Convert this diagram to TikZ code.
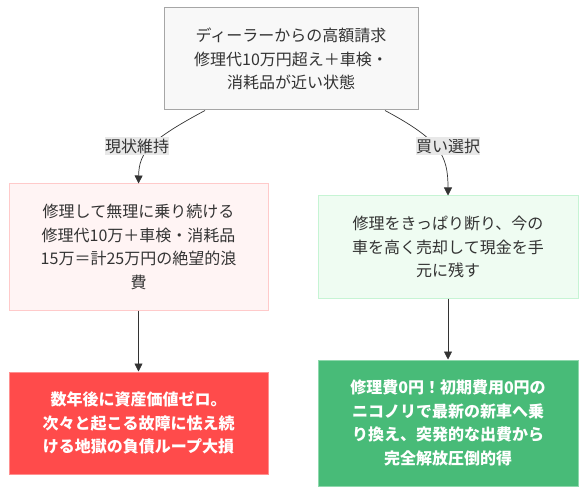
\documentclass[tikz,border=0pt]{standalone}
\usepackage{fontspec}
\setmainfont{Noto Sans CJK JP}
\usetikzlibrary{arrows.meta}

\definecolor{inktext}{HTML}{333333}
\definecolor{topfill}{HTML}{F8F8F8}
\definecolor{topline}{HTML}{A6A6A6}
\definecolor{keepfill}{HTML}{FFF4F4}
\definecolor{keepline}{HTML}{FFCACA}
\definecolor{sellfill}{HTML}{EFFCF2}
\definecolor{sellline}{HTML}{C6F4D4}
\definecolor{lossfill}{HTML}{FF4B4B}
\definecolor{lossline}{HTML}{FF9090}
\definecolor{gainfill}{HTML}{48BB78}
\definecolor{gainline}{HTML}{8ED8AC}
\definecolor{lblfill}{HTML}{E8E8E8}

\tikzset{
  box/.style={draw, align=center, inner sep=0pt, line width=1pt,
    text=inktext, font=\fontsize{16}{23.6}\selectfont},
  hotbox/.style={box, text=white, font=\fontsize{16}{23.6}\selectfont\bfseries},
  lbl/.style={fill=lblfill, text=inktext, inner xsep=0.3pt, inner ysep=2pt,
    font=\fontsize{16}{18}\selectfont},
  edge/.style={draw=inktext, line width=0.7pt, -{Triangle[length=8pt,width=8pt]}},
}

\begin{document}
\begin{tikzpicture}[x=1pt, y=-1pt]
\useasboundingbox (0,0) rectangle (586,494);

\node[box, fill=topfill, draw=topline, minimum width=254, minimum height=102] (bill) at (291,59)
  {ディーラーからの高額請求\\修理代10万円超え＋車検・\\消耗品が近い状態};

\node[box, fill=keepfill, draw=keepline, minimum width=259, minimum height=126] (keep) at (138.5,247)
  {修理して無理に乗り続ける\\修理代10万＋車検・消耗品\\15万＝計25万円の絶望的浪\\費};
\node[box, fill=sellfill, draw=sellline, minimum width=260, minimum height=102] (sell) at (448,247)
  {修理をきっぱり断り、今の\\車を高く売却して現金を手\\元に残す};

\node[hotbox, fill=lossfill, draw=lossline, minimum width=259, minimum height=102] (loss) at (138.5,423)
  {数年後に資産価値ゼロ。\\次々と起こる故障に怯え続\\ける地獄の負債ループ大損};
\node[hotbox, fill=gainfill, draw=gainline, minimum width=260, minimum height=126] (gain) at (448,423)
  {修理費0円！初期費用0円の\\ニコノリで最新の新車へ乗\\り換え、突発的な出費から\\完全解放圧倒的得};

\draw[edge] ([xshift=-86pt]bill.south) .. controls (150,140) and (139,152) .. (keep.north);
\draw[edge] ([xshift=94pt]bill.south) .. controls (440,140) and (448,155) .. (sell.north);
\node[lbl] (lblkeep) at (137,146) {現状維持};
\node[lbl] (lblsell) at (448,146) {買い選択};

\draw[edge] (keep) -- (loss);
\draw[edge] (sell) -- (gain);
\end{tikzpicture}
\end{document}
